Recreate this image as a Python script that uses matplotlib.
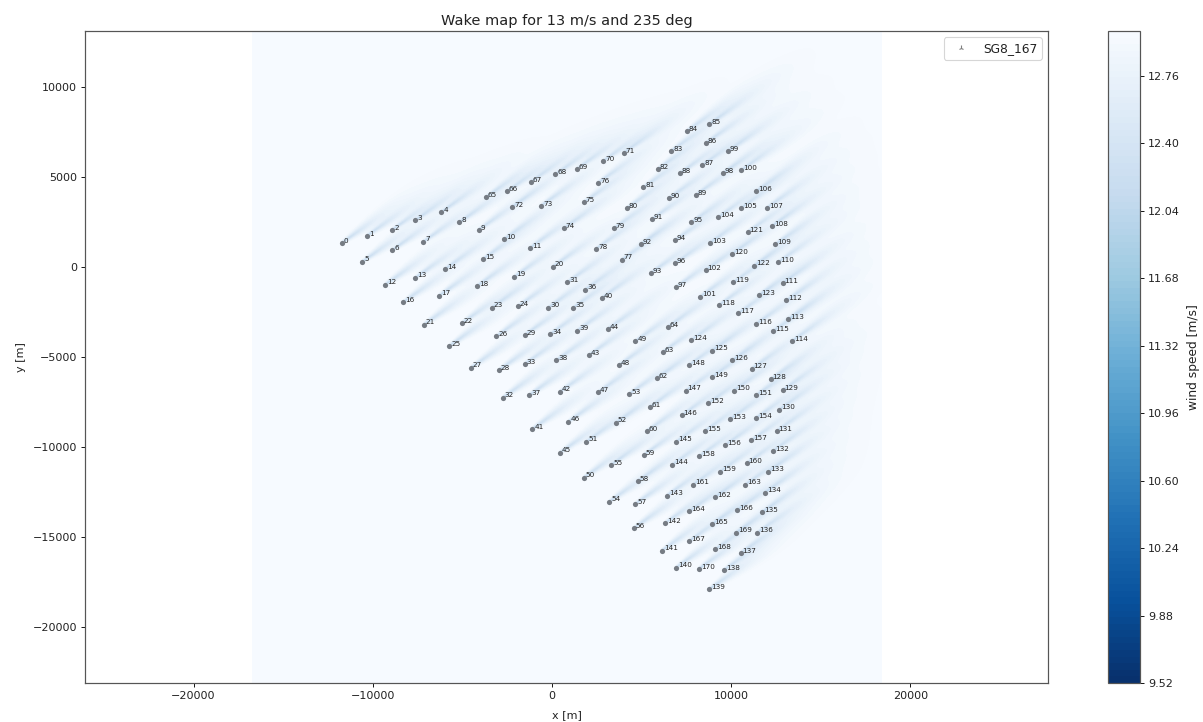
"""Wake map of a 171 turbine offshore farm."""
import numpy as np
from matplotlib import pyplot as plt

WS = 13.0
WD = 235.0
TITLE = f'Wake map for {WS:.0f} m/s and {WD:.0f} deg'

# Turbine positions in metres, index is the turbine number
wt_x = [
    -11718, -10323, -8911, -7628, -6177, -10585, -8911, -7181, -5173, -4090,
    -2695, -1228, -9319, -7628, -5971, -3833, -8314, -6305, -4185, -2104,
    39, -7159, -5039, -3365, -1897, -5731, -3108, -4520, -2957, -1523,
    -223, 848, -2751, -1523, -95, 1172, 1841, -1283, 240, 1395,
    2773, -1099, 446, 2048, 3108, 446, 910, 2567, 3722, 4659,
    1769, 1914, 3571, 4308, 3197, 3303, 4576, 4648, 4782, 5117,
    5301, 5452, 5842, 6177, 6456, -3700, -2511, -1172, 184, 1395,
    2846, 4001, -2232, -614, 653, 1769, 2567, 3889, 2455, 3443,
    4185, 5095, 5915, 6657, 7516, 8777, 8576, 8387, 7126, 8035,
    6512, 5580, 4966, 5507, 6863, 7773, 6863, 6919, 9525, 9804,
    10546, 8258, 8576, 8800, 9263, 10546, 11383, 11997, 12276, 12460,
    12611, 12873, 13085, 13186, 13392, 12332, 11383, 10396, 9319, 10117,
    10061, 10920, 11272, 11539, 7773, 8928, 10061, 11143, 12203, 12873,
    12667, 12538, 12332, 12070, 11869, 11718, 11456, 10529, 9598, 8777,
    6919, 6121, 6322, 6400, 6713, 6919, 7237, 7460, 7645, 8928,
    10139, 11383, 8722, 9949, 11383, 8521, 9670, 11121, 8203, 9374,
    10864, 7868, 9112, 10786, 7661, 8928, 10340, 7661, 9112, 10267,
    8186,
]
wt_y = [
    1351, 1740, 2074, 2597, 3058, 295, 945, 1407, 2485, 2074,
    1540, 1073, -984, -595, -111, 461, -1963, -1596, -1056, -539,
    17, -3208, -3130, -2263, -2185, -4392, -3853, -5599, -5727, -3781,
    -2263, -845, -7267, -5393, -3725, -2263, -1262, -7133, -5187, -3542,
    -1712, -9007, -6933, -4909, -3447, -10325, -8601, -6967, -5465, -4114,
    -11715, -9713, -8657, -7061, -13049, -10998, -14512, -13177, -11915, -10453,
    -9118, -7784, -6188, -4726, -3336, 3875, 4209, 4743, 5154, 5465,
    5894, 6355, 3336, 3408, 2152, 3597, 4687, 406, 1017, 2152,
    3280, 4431, 5465, 6466, 7562, 7951, 6894, 5671, 5210, 4020,
    3820, 2669, 1279, -334, 1485, 2485, 206, -1112, 5210, 6433,
    5377, -1651, -167, 1334, 2763, 3280, 4209, 3297, 2280, 1262,
    261, -890, -1863, -2908, -4114, -3575, -3169, -2574, -2113, -851,
    739, 1946, 72, -1573, -4059, -4654, -5187, -5655, -6244, -6855,
    -7934, -9118, -10230, -11381, -12549, -13639, -14773, -15902, -16847, -17920,
    -16719, -15774, -14234, -12716, -10992, -9713, -8245, -6878, -5449, -6116,
    -6878, -7133, -7578, -8451, -8396, -9118, -9897, -9635, -10525, -11381,
    -10914, -12104, -12788, -12104, -13583, -14306, -13511, -15234, -15696, -14773,
    -16791,
]

# Extent of the flow box and of the axes
flow_xlim = [-16740, 18415]
xlim = [-26060, 27680]
ylim = [-23140, 13125]
x_ticks = [-20000, -10000, 0, 10000, 20000]
y_ticks = [-20000, -15000, -10000, -5000, 0, 5000, 10000]

cbar_min = 9.52
cbar_max = 13.0
cbar_ticks = [9.52, 9.88, 10.24, 10.6, 10.96, 11.32, 11.68, 12.04, 12.4, 12.76]

SPINE_COLOR = '#555555'
TEXT_COLOR = '#222222'


def wake_field(xs, ys):
    """Sum of squares of a gaussian deficit behind every turbine."""
    theta = np.deg2rad(WD)
    dir_x, dir_y = -np.sin(theta), -np.cos(theta)
    xx, yy = np.meshgrid(xs, ys)
    squared = np.zeros_like(xx)
    for tx, ty in zip(wt_x, wt_y):
        down = (xx - tx) * dir_x + (yy - ty) * dir_y
        cross = -(xx - tx) * dir_y + (yy - ty) * dir_x
        behind = np.clip(down, 0, None)
        sigma = 70 + 0.08 * behind
        deficit = 1.05 * np.exp(-behind / 2000) * np.exp(-0.5 * (cross / sigma) ** 2)
        deficit[down < 0] = 0
        squared += deficit ** 2
    return WS - np.sqrt(squared)


def main() -> None:
    """Draw the flow map, the turbines and the colour bar."""
    plt.rcParams['text.color'] = TEXT_COLOR
    plt.rcParams['axes.labelcolor'] = TEXT_COLOR
    plt.rcParams['xtick.labelcolor'] = TEXT_COLOR
    plt.rcParams['ytick.labelcolor'] = TEXT_COLOR
    plt.rcParams['axes.edgecolor'] = SPINE_COLOR
    plt.rcParams['axes.linewidth'] = 1.1

    fig = plt.figure(figsize=(1203 / 80, 722 / 80), dpi=80)
    fig.patch.set_facecolor('white')
    ax = fig.add_axes([85 / 1203, 1 - 683 / 722, 963 / 1203, 652 / 722])

    xs = np.linspace(flow_xlim[0], flow_xlim[1], 900)
    ys = np.linspace(ylim[0], ylim[1], 900)
    levels = np.linspace(cbar_min, cbar_max, 100)
    field = np.clip(wake_field(xs, ys), cbar_min, cbar_max - 1e-3)
    cf = ax.contourf(xs, ys, field, levels=levels, cmap='Blues_r')

    ax.scatter(wt_x, wt_y, s=22, color='#767c84', zorder=3, linewidths=0)
    for i, (tx, ty) in enumerate(zip(wt_x, wt_y)):
        ax.annotate(str(i), (tx + 110, ty + 10), fontsize=6.5, color=TEXT_COLOR, zorder=4)
    ax.plot([], [], '2', color='gray', markersize=5, label='SG8_167')
    ax.legend(loc='upper right', fontsize=11, handletextpad=0.8)

    ax.set_xlim(xlim)
    ax.set_ylim(ylim)
    ax.set_xticks(x_ticks)
    ax.set_yticks(y_ticks)
    ax.set_xlabel('x [m]', labelpad=8)
    ax.set_ylabel('y [m]', labelpad=6.5)
    ax.set_title(TITLE, fontsize=13, pad=5)

    cax = fig.add_axes([1108 / 1203, 1 - 683 / 722, 32 / 1203, 652 / 722])
    cbar = fig.colorbar(cf, cax=cax)
    cbar.set_ticks(cbar_ticks)
    cbar.set_ticklabels([f'{t:.2f}' for t in cbar_ticks])
    cbar.set_label('wind speed [m/s]', fontsize=11, labelpad=7)

    plt.savefig('out.png')


if __name__ == "__main__":
    main()
